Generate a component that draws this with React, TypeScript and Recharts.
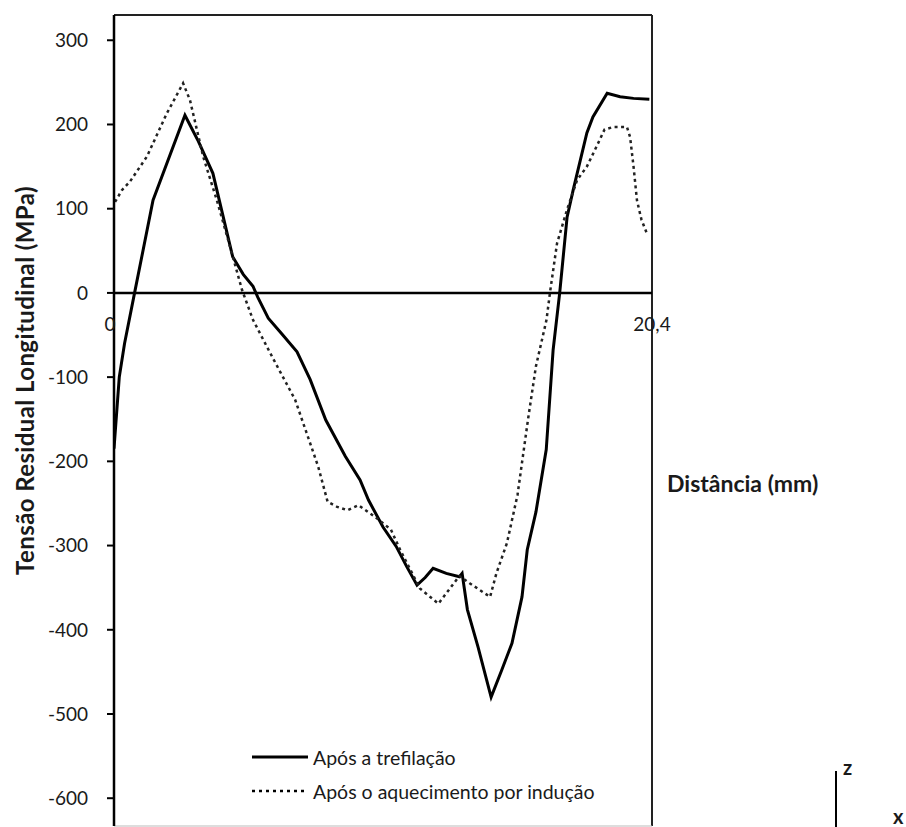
import { LineChart, Line, XAxis, YAxis, ReferenceLine, ReferenceDot, Legend } from 'recharts'

// distance along the wire (mm) and longitudinal residual stress (MPa)
const trefilacaoX = [
  0, 0.2, 0.4, 0.78, 1.48, 2.69, 3.2, 3.75, 4.5, 4.9, 5.27, 5.45, 5.85, 6.4, 6.94, 7.44, 8.03, 8.77, 9.33,
  9.65, 10.2, 10.7, 11.1, 11.49, 11.8, 12.1, 12.6, 13.1, 13.2, 13.4, 13.8, 14.3, 14.7, 15.09, 15.47,
  15.67, 16.0, 16.39, 16.65, 16.9, 17.18, 17.41, 17.93, 18.16, 18.7, 19.19, 19.7, 20.3,
]
const trefilacaoY = [
  -185, -100, -60, 0, 110, 211, 180, 142, 43, 22, 8, -5, -30, -50, -70, -103, -151, -194, -222,
  -246, -278, -301, -325, -347, -338, -327, -333, -337, -333, -376, -420, -480, -448, -416, -361,
  -305, -260, -186, -68, 0, 90, 122, 190, 209, 237, 233, 231, 230,
]

const inducaoX = [
  0.04, 0.3, 0.6, 1.25, 2.0, 2.62, 2.88, 3.38, 3.9, 4.4, 4.85, 5.27, 6.0, 6.87, 7.3, 7.74, 8.1,
  8.46, 8.85, 9.27, 9.9, 10.5, 10.85, 11.6, 12.3, 13.1, 13.5, 14.26, 14.5, 14.9, 15.3, 15.7, 16.0,
  16.4, 16.53, 16.8, 17.18, 17.56, 17.93, 18.3, 18.6, 18.93, 19.45, 19.57, 19.7, 19.83, 20.0, 20.2,
]
const inducaoY = [
  108, 122, 132, 162, 213, 249, 229, 162, 110, 55, 4, -32, -76, -127, -166, -206, -248,
  -254, -258, -252, -266, -281, -305, -351, -369, -336, -345, -361, -333, -297, -240, -150, -87,
  -32, 0, 59, 99, 134, 150, 174, 194, 197, 197, 185, 150, 110, 87, 71,
]

const seriesNames = ['Após a trefilação', 'Após o aquecimento por indução']
const yTicks = [300, 200, 100, 0, -100, -200, -300, -400, -500, -600]
const xTicks = [0, 20.4]
const xTickLabels = ['0', '20,4']

const FONT = 'Lato, "Open Sans", sans-serif'
const INK = '#1a1a1a'

const trefilacaoData = trefilacaoX.map((x, i) => ({ x, y: trefilacaoY[i] }))
const inducaoData = inducaoX.map((x, i) => ({ x, y: inducaoY[i] }))

function renderLegend() {
  return (
    <div style={{ fontFamily: FONT, fontSize: 19.5, color: INK }}>
      {seriesNames.map((name, i) => (
        <div key={name} style={{ display: 'flex', alignItems: 'center', height: 34 }}>
          <svg width={56} height={6}>
            <line
              x1={0}
              y1={3}
              x2={56}
              y2={3}
              stroke="#000"
              strokeWidth={i === 0 ? 3 : 2.5}
              strokeDasharray={i === 0 ? undefined : '3 4'}
            />
          </svg>
          <span style={{ marginLeft: 5, whiteSpace: 'nowrap' }}>{name}</span>
        </div>
      ))}
    </div>
  )
}

export default function App() {
  return (
    <div style={{ position: 'absolute', left: 0, top: 0, width: 906, height: 827, overflow: 'hidden', background: '#fff' }}>
      <LineChart width={906} height={827} margin={{ top: 15, right: 254, bottom: 1, left: 0 }}>
        <XAxis dataKey="x" type="number" domain={[0, 20.4]} ticks={xTicks} hide allowDataOverflow />
        <YAxis
          type="number"
          domain={[-633, 330]}
          ticks={yTicks}
          interval={0}
          width={114}
          allowDataOverflow
          axisLine={{ stroke: '#000', strokeWidth: 2.5 }}
          tickLine={{ stroke: '#000', strokeWidth: 2 }}
          tickSize={7}
          tickMargin={19}
          tick={{ fill: INK, fontSize: 19, fontFamily: FONT }}
          label={{
            value: 'Tensão Residual Longitudinal (MPa)',
            angle: -90,
            position: 'center',
            dx: -32,
            dy: -40,
            fill: INK,
            fontSize: 24,
            fontWeight: 700,
            letterSpacing: 0.4,
            fontFamily: FONT,
          }}
        />
        <ReferenceLine y={330} stroke="#222" strokeWidth={2} />
        <ReferenceLine x={20.4} stroke="#222" strokeWidth={2} />
        <ReferenceLine y={-633} stroke="#bbb" strokeWidth={1} />
        <ReferenceLine y={0} stroke="#000" strokeWidth={2.5} />
        {xTicks.map((t, i) => (
          <ReferenceDot
            key={t}
            x={t}
            y={0}
            r={1}
            fill="none"
            stroke="none"
            ifOverflow="visible"
            label={{
              value: xTickLabels[i],
              position: 'bottom',
              offset: 24,
              dx: i === 0 ? -4 : 0,
              fill: INK,
              fontSize: 19,
              fontFamily: FONT,
            }}
          />
        ))}
        <Line
          data={trefilacaoData}
          dataKey="y"
          name={seriesNames[0]}
          type="linear"
          stroke="#000"
          strokeWidth={3}
          dot={false}
          isAnimationActive={false}
        />
        <Line
          data={inducaoData}
          dataKey="y"
          name={seriesNames[1]}
          type="linear"
          stroke="#222"
          strokeWidth={2.5}
          strokeDasharray="3 3.5"
          dot={false}
          isAnimationActive={false}
        />
        <Legend
          layout="vertical"
          align="center"
          verticalAlign="middle"
          content={renderLegend}
          wrapperStyle={{ left: 252, top: 740, width: 420 }}
        />
      </LineChart>
      <svg width={906} height={827} style={{ position: 'absolute', left: 0, top: 0, pointerEvents: 'none' }}>
        <text x={667} y={492} fontFamily={FONT} fontSize={23} fontWeight={700} fill={INK}>
          Distância (mm)
        </text>
        <line x1={836} y1={771} x2={836} y2={827} stroke="#000" strokeWidth={2} />
        <text x={843} y={775} fontFamily={FONT} fontSize={20} fontWeight={700} fill={INK}>
          z
        </text>
        <text x={893} y={824} fontFamily={FONT} fontSize={20} fontWeight={700} fill={INK}>
          x
        </text>
      </svg>
    </div>
  )
}
